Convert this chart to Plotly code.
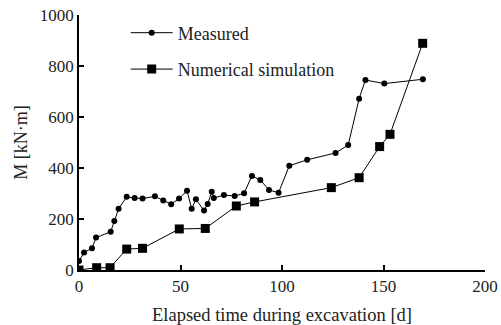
import plotly.graph_objects as go

# Measured bending moment over time
measured_t = [0, 2.5, 6.4, 8.4, 15.6, 17.4, 19.5, 23.5, 27.4, 31.3, 37.4, 41.5, 45.4,
              49.3, 53.2, 55.5, 57.6, 61.6, 63.4, 65.4, 66.4, 71.4, 76.7, 81.3, 85.2,
              89.3, 93.6, 98.3, 103.6, 112.4, 126.4, 132.6, 138.0, 141.1, 150.4, 169.4]
measured_m = [35, 69, 85, 127, 150, 192, 240, 287, 282, 280, 289, 273, 258,
              280, 311, 240, 277, 233, 259, 307, 282, 294, 290, 301, 369,
              353, 314, 303, 409, 432, 459, 490, 672, 745, 731, 748]

# Numerical simulation results
sim_t = [0, 8.7, 15.3, 23.5, 31.3, 49.4, 62.2, 77.5, 86.5, 124.3, 138.0, 148.1, 153.2, 169.3]
sim_m = [0, 9, 9, 82, 85, 161, 163, 251, 267, 323, 362, 484, 532, 889]

x_ticks = [0, 50, 100, 150, 200]
y_ticks = [0, 200, 400, 600, 800, 1000]

FONT = "Liberation Serif"
TEXT = "#222"

fig = go.Figure()
fig.add_trace(go.Scatter(
    x=measured_t, y=measured_m, mode="lines+markers", name="Measured",
    line=dict(color="black", width=1),
    marker=dict(symbol="circle", size=6, color="black"),
    legendgroup="a",
))
fig.add_trace(go.Scatter(
    x=sim_t, y=sim_m, mode="lines+markers", name="Numerical simulation",
    line=dict(color="black", width=1),
    marker=dict(symbol="square", size=9, color="black"),
    legendgroup="b",
))

axis_common = dict(
    showline=True, linecolor="black", linewidth=1.5,
    ticks="inside", ticklen=5, tickwidth=1.5, tickcolor="black",
    showgrid=False, zeroline=False, automargin=False,
    tickfont=dict(family=FONT, size=17, color=TEXT),
)

fig.update_layout(
    width=501, height=325,
    margin=dict(l=79, r=16, t=15, b=55),
    paper_bgcolor="white", plot_bgcolor="white",
    font=dict(family=FONT, size=17, color=TEXT),
    xaxis=dict(range=[0, 200], tickvals=x_ticks,
               title=dict(text="Elapsed time during excavation [d]", standoff=14,
                          font=dict(family=FONT, size=18.5, color=TEXT)),
               **axis_common),
    yaxis=dict(range=[0, 1000], tickvals=y_ticks,
               title=dict(text="M [kN·m]", standoff=8,
                          font=dict(family=FONT, size=18, color=TEXT)),
               **axis_common),
    legend=dict(x=0.115, y=1.002, xanchor="left", yanchor="top",
                bgcolor="rgba(0,0,0,0)", tracegroupgap=10,
                traceorder="grouped", itemwidth=42,
                font=dict(family=FONT, size=18, color=TEXT)),
)

fig.write_html("out.html")
